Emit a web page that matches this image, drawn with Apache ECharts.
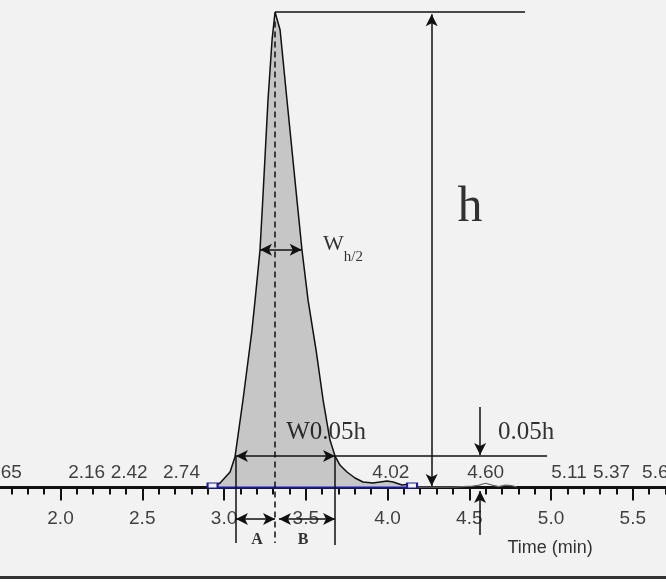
<!DOCTYPE html>
<html>
<head>
<meta charset="utf-8">
<script src="https://cdn.jsdelivr.net/npm/echarts@6/dist/echarts.min.js"></script>
<style>
  html, body { margin: 0; padding: 0; background: #ffffff; }
  #main { width: 666px; height: 583px; }
</style>
</head>
<body>
<div id="main"></div>
<script>
// retention time axis (min), signal in % of peak height h
const majorTicks = [2.0, 2.5, 3.0, 3.5, 4.0, 4.5, 5.0, 5.5]
const minorTicks = [1.7, 1.8, 1.9, 2.0, 2.1, 2.2, 2.3, 2.4, 2.5, 2.6, 2.7, 2.8, 2.9, 3.0, 3.1, 3.2, 3.3, 3.4, 3.5,
  3.6, 3.7, 3.8, 3.9, 4.0, 4.1, 4.2, 4.3, 4.4, 4.5, 4.6, 4.7, 4.8, 4.9, 5.0, 5.1, 5.2, 5.3, 5.4, 5.5, 5.6, 5.7]

// main peak outline
const peakTime = [2.933, 2.976, 3.037, 3.067, 3.116, 3.169, 3.190, 3.220, 3.237, 3.269, 3.294, 3.312,
  3.343, 3.385, 3.446, 3.477, 3.514, 3.563, 3.606, 3.648, 3.679, 3.709, 3.752, 3.801, 3.850,
  3.911, 3.954, 3.997, 4.034, 4.089, 4.138, 4.180]
const peakSignal = [0.1, 0.95, 3.26, 6.41, 18.4, 32.5, 39.4, 49.9, 60.5, 81.5, 94.2, 100,
  96.2, 81.5, 60.5, 49.9, 39.4, 28.9, 18.4, 9.99, 6.62, 4.73, 3.26, 2.0, 1.16,
  0.95, 1.16, 1.37, 1.16, 0.53, 0.74, 0.1]

// baseline noise after the peak
const tailTime = [4.18, 4.40, 4.52, 4.56, 4.60, 4.64, 4.68, 4.72, 4.76, 4.79]
const tailSignal = [0.1, 0.1, 0.3, 0.5, 0.9, 0.5, 0.2, 0.5, 0.4, 0.1]

// integration baseline start / end
const baseTime = [2.93, 4.15]

// retention times printed above the trace
const rtLabels = [1.65, 2.16, 2.42, 2.74, 4.02, 4.60, 5.11, 5.37, 5.67]

// measurement construction (time, % h)
const apexTime = 3.312
const halfHeight = 50
const lowHeight = 6.62
const halfLeft = 3.220, halfRight = 3.475
const lowLeft = 3.073, lowRight = 3.679
const hLineEnd = 4.841
const hArrowTime = 4.270
const lowLineEnd = 4.976
const markTime = 4.566
const dropLevel = -11.67
const abLevel = -6.62
const bStart = 3.336
const bottomRule = -18.82

const XMIN = 1.63, XMAX = 5.703, YMIN = -20.08, YMAX = 102.52

const SANS = "'Liberation Sans', Arial, sans-serif"
const SERIF = "'Liberation Serif', 'Times New Roman', serif"

const chart = echarts.init(document.getElementById('main'))

const pair = (a, b) => [{ coord: a }, { coord: b }]

const annotationTexts = [
  { value: [4.505, 58.8], name: 'h', label: { formatter: 'h', fontSize: 50, position: 'inside' } },
  { value: [3.606, 51.0], name: 'wh2', label: { formatter: '{w|W}{s|h/2}', position: 'right', distance: 0 } },
  { value: [3.624, 11.67], name: 'w005', label: { formatter: 'W0.05h', fontSize: 25, position: 'inside' } },
  { value: [4.847, 11.67], name: '005', label: { formatter: '0.05h', fontSize: 25, position: 'inside' } },
  { value: [3.202, -11.04], name: 'A', label: { formatter: 'A', fontSize: 16, fontWeight: 'bold', position: 'inside' } },
  { value: [3.483, -11.04], name: 'B', label: { formatter: 'B', fontSize: 16, fontWeight: 'bold', position: 'inside' } },
  { value: [4.994, -12.72], name: 'time', label: { formatter: 'Time (min)', fontSize: 18, fontFamily: SANS, position: 'inside' } }
]

chart.setOption({
  backgroundColor: '#f2f2f2',
  animation: false,
  grid: { left: 0, right: 0, top: 0, bottom: 0, containLabel: false, outerBoundsMode: 'none' },
  xAxis: [
    {
      type: 'value', min: XMIN, max: XMAX, position: 'bottom',
      axisLine: { onZero: true, onZeroAxisIndex: 0, lineStyle: { color: '#111', width: 3 } },
      axisTick: { show: true, length: 13, customValues: majorTicks, lineStyle: { color: '#111', width: 2 } },
      axisLabel: { show: false },
      splitLine: { show: false }
    },
    {
      type: 'value', min: XMIN, max: XMAX, position: 'bottom',
      axisLine: { show: false, onZero: true, onZeroAxisIndex: 0 },
      axisTick: { show: true, length: 7, customValues: minorTicks, lineStyle: { color: '#111', width: 2 } },
      axisLabel: { show: false },
      splitLine: { show: false }
    }
  ],
  yAxis: { type: 'value', min: YMIN, max: YMAX, show: false },
  graphic: [
    { type: 'rect', left: 0, bottom: 0, shape: { width: 666, height: 5 }, style: { fill: '#ffffff' }, silent: true }
  ],
  series: [
    {
      name: 'peak', type: 'line', symbol: 'none', clip: false,
      data: peakTime.map((t, i) => [t, peakSignal[i]]),
      lineStyle: { color: '#111', width: 1.5 },
      areaStyle: { color: '#c6c6c6', opacity: 1 },
      z: 3
    },
    {
      name: 'tail', type: 'line', symbol: 'none', clip: false,
      data: tailTime.map((t, i) => [t, tailSignal[i]]),
      lineStyle: { color: '#666', width: 1.2 },
      z: 3
    },
    {
      name: 'baseline', type: 'line', clip: false,
      data: baseTime.map(t => [t, 0]),
      symbol: 'rect', symbolSize: [10, 5], symbolOffset: [0, -2], showSymbol: true,
      itemStyle: { color: '#f2f2f2', borderColor: '#1a1aa0', borderWidth: 1.5 },
      lineStyle: { color: '#1a1aa0', width: 2 },
      z: 4
    },
    {
      name: 'rt', type: 'scatter', symbolSize: 0, clip: false,
      data: rtLabels.map(t => [t, 0]),
      label: {
        show: true, position: 'top', distance: 5, color: '#111', fontSize: 19, fontFamily: SANS,
        formatter: p => p.value[0].toFixed(2)
      },
      z: 5
    },
    {
      name: 'tickLabels', type: 'scatter', symbolSize: 0, clip: false,
      data: majorTicks.map(t => [t, 0]),
      label: {
        show: true, position: 'bottom', distance: 22, color: '#111', fontSize: 19, fontFamily: SANS,
        formatter: p => p.value[0].toFixed(1)
      },
      z: 5
    },
    {
      name: 'texts', type: 'scatter', symbolSize: 0, clip: false,
      data: annotationTexts,
      label: {
        show: true, color: '#000', fontFamily: SERIF,
        rich: {
          w: { fontSize: 22, fontFamily: SERIF, color: '#000', lineHeight: 24, verticalAlign: 'top' },
          s: { fontSize: 15, fontFamily: SERIF, color: '#000', lineHeight: 15, padding: [17, 0, 0, 0], verticalAlign: 'top' }
        }
      },
      z: 6
    },
    {
      name: 'guides', type: 'line', data: [], clip: false,
      markLine: {
        silent: true, symbol: ['none', 'none'], label: { show: false },
        lineStyle: { color: '#111', width: 1.5, type: 'solid' },
        data: [
          pair([apexTime, 100], [hLineEnd, 100]),
          pair([lowRight, lowHeight], [lowLineEnd, lowHeight]),
          pair([lowLeft, lowHeight], [lowLeft, dropLevel]),
          pair([lowRight, lowHeight], [lowRight, dropLevel - 0.4]),
          [{ coord: [XMIN, bottomRule], lineStyle: { width: 3, color: '#333' } }, { coord: [XMAX, bottomRule] }]
        ]
      }
    },
    {
      name: 'centre', type: 'line', data: [], clip: false,
      markLine: {
        silent: true, symbol: ['none', 'none'], label: { show: false },
        lineStyle: { color: '#111', width: 1.5, type: [6, 4] },
        data: [pair([apexTime, 98], [apexTime, dropLevel])]
      }
    },
    {
      name: 'arrows2', type: 'line', data: [], clip: false,
      markLine: {
        silent: true, symbol: ['arrow', 'arrow'], symbolSize: [9, 12], label: { show: false },
        lineStyle: { color: '#111', width: 1.5, type: 'solid' },
        data: [
          pair([hArrowTime, 99.5], [hArrowTime, 0.3]),
          pair([halfLeft, halfHeight], [halfRight, halfHeight]),
          pair([lowLeft, lowHeight], [lowRight, lowHeight]),
          pair([lowLeft, abLevel], [apexTime, abLevel]),
          pair([bStart, abLevel], [lowRight, abLevel])
        ]
      }
    },
    {
      name: 'arrows1', type: 'line', data: [], clip: false,
      markLine: {
        silent: true, symbol: ['none', 'arrow'], symbolSize: [9, 12], label: { show: false },
        lineStyle: { color: '#111', width: 1.5, type: 'solid' },
        data: [
          pair([markTime, 16.93], [markTime, 6.83]),
          pair([markTime, -9.99], [markTime, -0.74])
        ]
      }
    }
  ]
})
</script>
</body>
</html>
